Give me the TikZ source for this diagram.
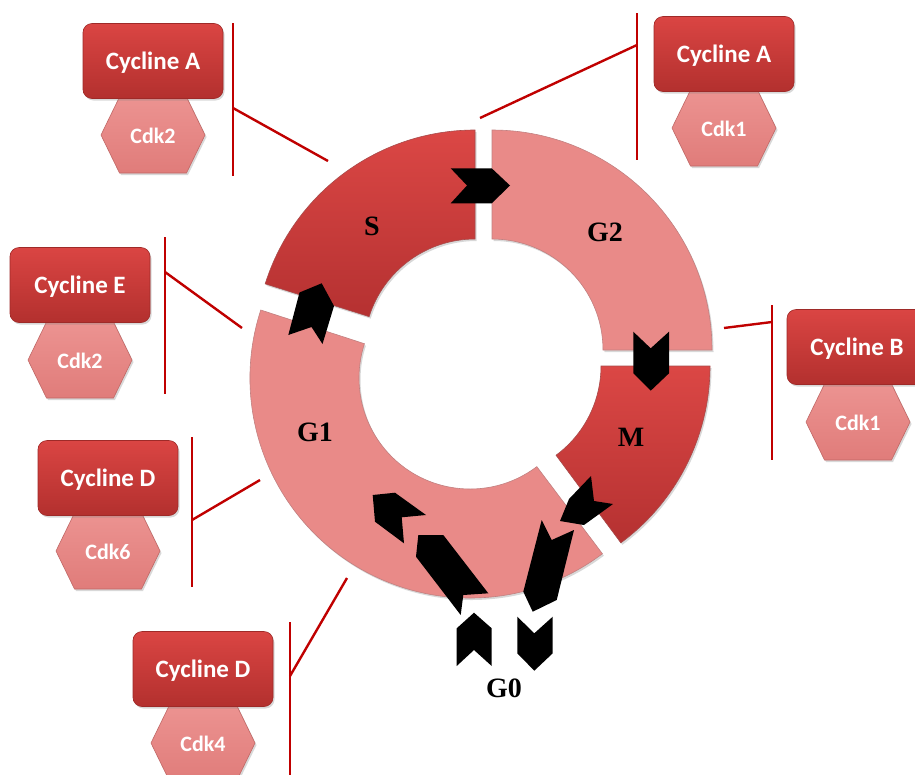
\documentclass[tikz,border=0pt]{standalone}
\usepackage{fontspec}
\setmainfont{Liberation Serif}
\newfontfamily\boxfont{Carlito}
\usetikzlibrary{shadows}
\definecolor{segdarktop}{HTML}{DB4745}
\definecolor{segdarkbot}{HTML}{B53131}
\definecolor{seglight}{HTML}{E98A88}
\definecolor{segedge}{HTML}{A84A4A}
\definecolor{boxtop}{HTML}{DA4543}
\definecolor{boxbot}{HTML}{B3302E}
\definecolor{boxedge}{HTML}{9E2A28}
\definecolor{hextop}{HTML}{EC9391}
\definecolor{hexbot}{HTML}{E07C7A}
\definecolor{hexedge}{HTML}{C06866}
\definecolor{bracketred}{HTML}{C00000}
\begin{document}
\begin{tikzpicture}[x=1pt,y=1pt,
  shadowed/.style={drop shadow={opacity=0.3,shadow xshift=1.5pt,shadow yshift=-2pt}},
  darkseg/.style={top color=segdarktop,bottom color=segdarkbot,draw=segedge,line width=0.6pt,shadowed},
  lightseg/.style={fill=seglight,draw=segedge!70,line width=0.6pt,shadowed},
  phase/.style={font=\bfseries\fontsize{28}{32}\selectfont,text=black,inner sep=0pt},
  cycbox/.style={rounded corners=9pt,minimum width=140pt,minimum height=75pt,inner sep=0pt,
    text depth=1pt,
    top color=boxtop,bottom color=boxbot,draw=boxedge,line width=0.6pt,shadowed,
    text=white,font=\boxfont\bfseries\fontsize{25}{30}\selectfont},
  hexfill/.style={top color=hextop,bottom color=hexbot,draw=hexedge,line width=0.6pt,shadowed},
  hextext/.style={text=white,font=\boxfont\bfseries\fontsize{22}{26}\selectfont,inner sep=0pt},
  chev/.style={fill=black},
  bracket/.style={draw=bracketred,line width=2.4pt},
  pics/hexa/.style={code={\path[hexfill] (-52,0) -- (-33.5,38) -- (33.5,38) -- (52,0) -- (33.5,-38) -- (-33.5,-38) -- cycle;}}
]
\clip (0,0) rectangle (915,-774);
\fill[white] (0,0) rectangle (915,-774);

% ---- ring segments ----
\path[lightseg] ([shift={(492,-350)}]0:220) arc[start angle=0,end angle=90,radius=220]
  -- ([shift={(492,-350)}]90:111) arc[start angle=90,end angle=0,radius=111] -- cycle;
\path[darkseg] ([shift={(475,-350)}]90:220) arc[start angle=90,end angle=162.5,radius=220]
  -- ([shift={(475,-350)}]162.5:111) arc[start angle=162.5,end angle=90,radius=111] -- cycle;
\path[lightseg] ([shift={(470,-378)}]162:220) arc[start angle=162,end angle=307,radius=220]
  -- ([shift={(470,-378)}]307:111) arc[start angle=307,end angle=162,radius=111] -- cycle;
\path[darkseg] ([shift={(490,-366)}]-53.5:220) arc[start angle=-53.5,end angle=0,radius=220]
  -- ([shift={(490,-366)}]0:111) arc[start angle=0,end angle=-53.5,radius=111] -- cycle;

% ---- phase labels ----
\node[phase] (S) at (372,-226) {S};
\node[phase] (G2) at (605,-232) {G2};
\node[phase] (M) at (631,-437) {M};
\node[phase] (G1) at (315,-432) {G1};
\node[phase] (G0) at (504,-688) {G0};

% ---- chevrons ----
\fill[chev] (450.7,-168.3) -- (491.7,-168.3) -- (510,-185.5) -- (491.7,-203.3) -- (450.7,-203.3) -- (467,-185.5) -- cycle;
\fill[chev] (633.3,-331.7) -- (650.7,-348.3) -- (669,-331.7) -- (669,-373.3) -- (650.7,-390.7) -- (633.3,-373.3) -- cycle;
\fill[chev] (321.7,-283.3) -- (334,-306) -- (322.5,-344) -- (311.5,-327) -- (288.3,-335) -- (299.5,-292.5) -- cycle;
\fill[chev] (372.7,-495) -- (395,-492.7) -- (426,-515) -- (401.7,-517.3) -- (404,-543.3) -- (375,-521.7) -- cycle;
\fill[chev] (418.3,-535) -- (443.3,-535) -- (488.3,-593.3) -- (463.3,-595) -- (460.7,-615) -- (416,-556.7) -- cycle;
\fill[chev] (474,-612.7) -- (491.7,-628.3) -- (491.7,-666) -- (474,-650) -- (456.7,-666) -- (456.7,-628.3) -- cycle;
\fill[chev] (517.3,-616.7) -- (534.3,-633.3) -- (552.7,-616.7) -- (552.7,-653.3) -- (534.3,-670.7) -- (517.3,-653.3) -- cycle;
\fill[chev] (541.7,-520) -- (551.7,-540) -- (574,-530) -- (556.7,-600) -- (532.7,-611.7) -- (523.3,-591.7) -- cycle;
\fill[chev] (591,-476) -- (594,-501) -- (613,-504) -- (584,-525) -- (560,-521) -- (569,-499) -- cycle;

% ---- cyclin / cdk complexes ----
\pic at (153,-135) {hexa};
\node[cycbox] (cA1) at (153,-61) {Cycline A};
\node[hextext] (k1) at (153,-136) {Cdk2};

\pic at (724,-128) {hexa};
\node[cycbox] (cA2) at (724,-54) {Cycline A};
\node[hextext] (k2) at (724,-129) {Cdk1};

\pic at (80,-360) {hexa};
\node[cycbox] (cE) at (80,-285) {Cycline E};
\node[hextext] (k3) at (80,-361) {Cdk2};

\pic at (858,-422) {hexa};
\node[cycbox] (cB) at (857,-347) {Cycline B};
\node[hextext] (k4) at (858,-423) {Cdk1};

\pic at (108,-551) {hexa};
\node[cycbox] (cD1) at (108,-478) {Cycline D};
\node[hextext] (k5) at (108,-552) {Cdk6};

\pic at (203,-743) {hexa};
\node[cycbox] (cD2) at (203,-669) {Cycline D};
\node[hextext] (k6) at (203,-744) {Cdk4};

% ---- brackets ----
\coordinate (b1t) at (233,-23); \coordinate (b1b) at (233,-176);
\coordinate (b1m) at (233,-108); \coordinate (b1e) at (328,-161);
\coordinate (b2t) at (637,-13); \coordinate (b2b) at (637,-160);
\coordinate (b2m) at (637,-45); \coordinate (b2e) at (480,-118);
\coordinate (b3t) at (165,-237); \coordinate (b3b) at (165,-394);
\coordinate (b3m) at (165,-272); \coordinate (b3e) at (242,-328);
\coordinate (b4t) at (772,-305); \coordinate (b4b) at (772,-460);
\coordinate (b4m) at (772,-322); \coordinate (b4e) at (724,-328);
\coordinate (b5t) at (192,-437); \coordinate (b5b) at (192,-587);
\coordinate (b5m) at (192,-520); \coordinate (b5e) at (260,-480);
\coordinate (b6t) at (290,-622); \coordinate (b6b) at (290,-780);
\coordinate (b6m) at (290,-676); \coordinate (b6e) at (347,-578);
\foreach \i in {1,...,6}{
  \draw[bracket] (b\i t) -- (b\i b);
  \draw[bracket] (b\i m) -- (b\i e);
}
\end{tikzpicture}
\end{document}
